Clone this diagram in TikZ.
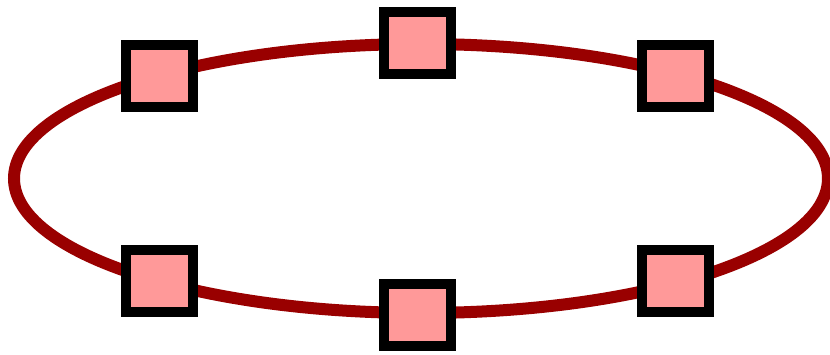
\documentclass[tikz,border=0pt]{standalone}
\definecolor{ringred}{HTML}{990000}
\definecolor{boxpink}{HTML}{FF9999}
\begin{document}
\begin{tikzpicture}[x=1pt,y=-1pt,
  ring/.style={draw=ringred,line width=12pt},
  sq/.style={draw=black,fill=boxpink,line width=10pt,minimum width=67pt,minimum height=62pt,inner sep=0pt}]
\useasboundingbox (0,0) rectangle (830,355);
\draw[ring] (421,178.5) ellipse [x radius=407, y radius=134.5];
\node[sq] (tl) at (159.5,76) {};
\node[sq] (tm) at (417,43) {};
\node[sq] (tr) at (675,76) {};
\node[sq] (bl) at (159.5,281) {};
\node[sq] (bm) at (417,315) {};
\node[sq] (br) at (675,281) {};
\end{tikzpicture}
\end{document}
